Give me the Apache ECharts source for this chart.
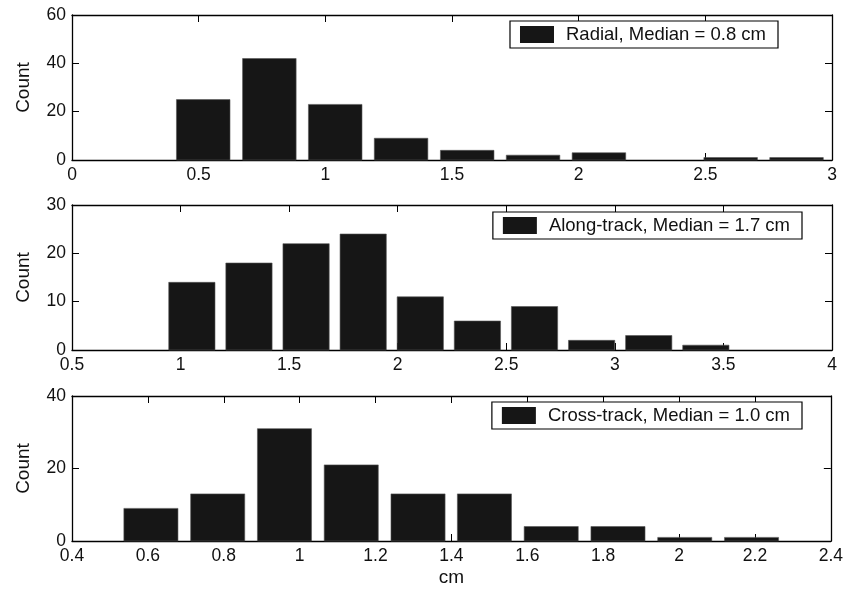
<!DOCTYPE html>
<html>
<head>
<meta charset="utf-8">
<script src="https://cdn.jsdelivr.net/npm/echarts@6/dist/echarts.min.js"></script>
<style>html,body{margin:0;padding:0;background:#fff;}#c{width:846px;height:596px;}</style>
</head>
<body>
<div id="c"></div>
<script>
// ---- data ----
const radialName = 'Radial, Median = 0.8 cm';
const radialCenters = [0.518, 0.779, 1.039, 1.299, 1.560, 1.820, 2.080, 2.340, 2.600, 2.860];
const radialCounts  = [25, 42, 23, 9, 4, 2, 3, 0, 1, 1];

const alongName = 'Along-track, Median = 1.7 cm';
const alongCenters = [1.052, 1.315, 1.578, 1.841, 2.104, 2.367, 2.630, 2.893, 3.156, 3.419];
const alongCounts  = [14, 18, 22, 24, 11, 6, 9, 2, 3, 1];

const crossName = 'Cross-track, Median = 1.0 cm';
const crossCenters = [0.608, 0.784, 0.960, 1.136, 1.312, 1.487, 1.663, 1.839, 2.015, 2.191];
const crossCounts  = [9, 13, 31, 21, 13, 13, 4, 4, 1, 1];

const xRanges = [[0, 3, 0.5], [0.5, 4, 0.5], [0.4, 2.4, 0.2]];
const yRanges = [[0, 60, 20], [0, 30, 10], [0, 40, 20]];

// ---- chart ----
const FONT = '"Liberation Sans", Arial, Helvetica, sans-serif';
const BAR_FRAC = 0.81;
const grids = [
  {left: 72, right: 14, top: 15, height: 145},
  {left: 72, right: 14, top: 205, height: 145},
  {left: 72, right: 14, top: 396, height: 145}
];
const legendPos = [
  {right: 68, top: 21},
  {right: 44, top: 212},
  {right: 44, top: 402}
];
const sets = [
  {name: radialName, c: radialCenters, v: radialCounts},
  {name: alongName, c: alongCenters, v: alongCounts},
  {name: crossName, c: crossCenters, v: crossCounts}
];

const xAxis = [], yAxis = [], series = [], legend = [];
const axisLine = {show: true, onZero: false, lineStyle: {color: '#000', width: 1.3}};
const tickIn = {show: true, inside: true, length: 7, lineStyle: {color: '#000', width: 1}};
const labelStyle = {fontFamily: FONT, fontSize: 17.5, color: '#111'};

sets.forEach((s, i) => {
  const xr = xRanges[i], yr = yRanges[i];
  xAxis.push({
    type: 'value', gridIndex: i, position: 'bottom', min: xr[0], max: xr[1], interval: xr[2],
    axisLine: axisLine, axisTick: tickIn, splitLine: {show: false},
    axisLabel: Object.assign({margin: 6, showMinLabel: true, showMaxLabel: true}, labelStyle),
    name: i === 2 ? 'cm' : '', nameLocation: 'middle', nameGap: 27,
    nameTextStyle: {fontFamily: FONT, fontSize: 19, color: '#111'}
  });
  xAxis.push({
    type: 'value', gridIndex: i, position: 'top', min: xr[0], max: xr[1], interval: xr[2],
    axisLine: axisLine, axisTick: tickIn, splitLine: {show: false}, axisLabel: {show: false}
  });
  yAxis.push({
    type: 'value', gridIndex: i, position: 'left', min: yr[0], max: yr[1], interval: yr[2],
    axisLine: axisLine, axisTick: tickIn, splitLine: {show: false},
    axisLabel: Object.assign({margin: 6}, labelStyle),
    name: 'Count', nameLocation: 'middle', nameGap: 39,
    nameTextStyle: {fontFamily: FONT, fontSize: 19, color: '#111'}
  });
  yAxis.push({
    type: 'value', gridIndex: i, position: 'right', min: yr[0], max: yr[1], interval: yr[2],
    axisLine: axisLine, axisTick: tickIn, splitLine: {show: false}, axisLabel: {show: false}
  });
  const binW = s.c[1] - s.c[0];
  series.push({
    type: 'custom', name: s.name, xAxisIndex: i * 2, yAxisIndex: i * 2, z: 5,
    itemStyle: {color: '#161616'},
    data: s.c.map((c, k) => [c, s.v[k]]),
    renderItem: function (params, api) {
      const c = api.value(0), v = api.value(1);
      if (!v) return null;
      const p0 = api.coord([c - binW * BAR_FRAC / 2, v]);
      const p1 = api.coord([c + binW * BAR_FRAC / 2, 0]);
      return {
        type: 'rect',
        shape: {x: p0[0], y: p0[1], width: p1[0] - p0[0], height: p1[1] - p0[1]},
        style: {fill: '#161616', stroke: '#555', lineWidth: 0.6}
      };
    }
  });
  legend.push(Object.assign({
    data: [s.name], orient: 'horizontal', icon: 'rect', itemWidth: 34, itemHeight: 17,
    borderColor: '#000', borderWidth: 1.2, backgroundColor: '#fff', borderRadius: 0,
    padding: [4, 12, 4, 10], z: 10, selectedMode: false,
    textStyle: {fontFamily: FONT, fontSize: 18.5, color: '#111', padding: [0, 0, 0, 7]}
  }, legendPos[i]));
});

const chart = echarts.init(document.getElementById('c'), null, {renderer: 'canvas'});
chart.setOption({
  animation: false,
  backgroundColor: '#fff',
  grid: grids,
  xAxis: xAxis,
  yAxis: yAxis,
  legend: legend,
  series: series
});
</script>
</body>
</html>
